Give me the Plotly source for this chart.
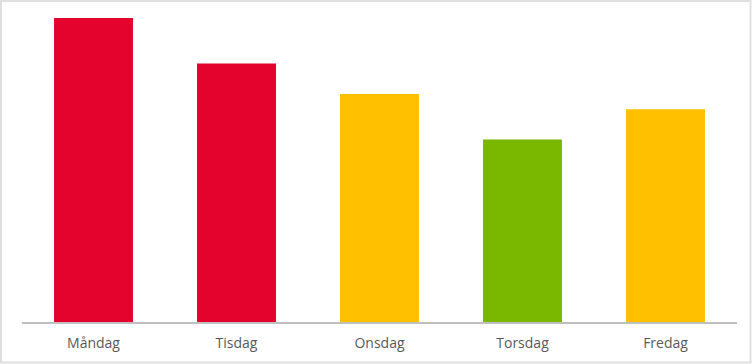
import plotly.graph_objects as go

days = ["Måndag", "Tisdag", "Onsdag", "Torsdag", "Fredag"]
values = [10, 8.5, 7.5, 6, 7]
colors = ["#E4032C", "#E4032C", "#FFC000", "#7AB800", "#FFC000"]

W, H = 752, 364
L, R, T, B = 22, 15, 18, 42
pw, ph = W - L - R, H - T - B

fig = go.Figure(go.Bar(x=days, y=values, marker=dict(color=colors, line=dict(width=0)), width=0.552))

fig.update_layout(
    width=W, height=H,
    margin=dict(l=L, r=R, t=T, b=B, pad=0),
    paper_bgcolor="white", plot_bgcolor="white",
    showlegend=False,
    font=dict(family="Open Sans, Liberation Sans, sans-serif", size=14, color="#595959"),
    xaxis=dict(showline=True, linecolor="#BFBFBF", linewidth=2, showgrid=False, ticks="",
               zeroline=False, ticklabelstandoff=7),
    yaxis=dict(range=[0, 10], visible=False, showgrid=False, zeroline=False),
    shapes=[dict(type="rect", xref="paper", yref="paper",
                 x0=(1 - L) / pw, x1=(W - 1.5 - L) / pw,
                 y0=(H - B - (H - 1.5)) / ph, y1=(H - B - 1) / ph,
                 line=dict(color="#E0E0E0", width=2), fillcolor="rgba(0,0,0,0)", layer="below")],
)

fig.write_html("out.html")
